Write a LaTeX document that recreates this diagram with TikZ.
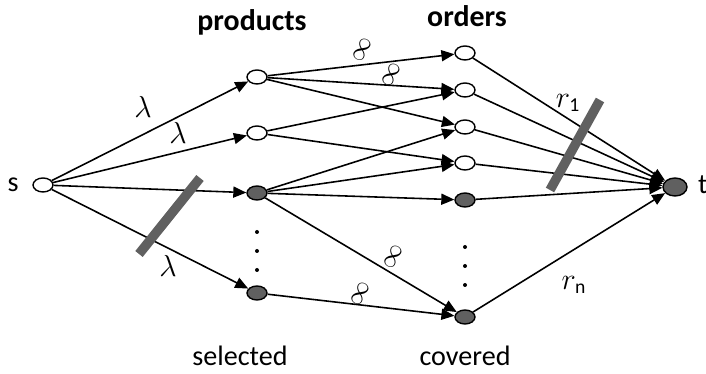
\documentclass[tikz,border=0pt]{standalone}
\usepackage{amsmath}
\usepackage{fontspec}
\setmainfont{Carlito}
\usetikzlibrary{shapes.geometric, arrows.meta, positioning}
\tikzset{
  vtx/.style   = {ellipse, draw=black, line width=0.8pt, inner sep=0pt,
                  minimum width=0.4cm, minimum height=0.28cm, fill=white},
  fvtx/.style  = {vtx, fill=gray!75!black},
  arr/.style   = {-{Triangle[length=2.6mm,width=2.2mm]}, line width=0.9pt},
  cut/.style   = {line width=0.19cm, gray!75!black},
  head/.style  = {font=\fontsize{16}{18}\selectfont},
  inf/.style   = {font=\fontsize{15}{16}\selectfont, rotate=62, inner sep=0pt},
  wt/.style    = {font=\fontsize{16}{18}\selectfont, inner sep=0pt},
  dot/.style   = {circle, fill=black, inner sep=0pt, minimum size=0.08cm},
}

\begin{document}
\begin{tikzpicture}[x=0.02cm, y=-0.02cm]
  \useasboundingbox (0,0) rectangle (706,374);

  % source and sink
  \node[vtx] (s) at (43,185) {};
  \node[head, left=0.15cm of s] (slab) {s};
  \node[fvtx, minimum width=0.48cm, minimum height=0.36cm] (t) at (675,187) {};
  \node[head, anchor=west] (tlab) at (692,185) {t};

  % products
  \node[vtx]  (p1) at (257,77)  {};
  \node[vtx]  (p2) at (257,133) {};
  \node[fvtx] (p3) at (257,193) {};
  \node[fvtx] (p4) at (257,293) {};
  \node[dot] (pd1) at (257,232) {};
  \node[dot] (pd2) at (257,251) {};
  \node[dot] (pd3) at (257,270) {};

  % orders
  \node[vtx]  (o1) at (465,53)  {};
  \node[vtx]  (o2) at (465,90)  {};
  \node[vtx]  (o3) at (465,127) {};
  \node[vtx]  (o4) at (465,163) {};
  \node[fvtx] (o5) at (465,200) {};
  \node[fvtx] (o6) at (465,317) {};
  \node[dot] (od1) at (465,247) {};
  \node[dot] (od2) at (465,266) {};
  \node[dot] (od3) at (465,285) {};

  \node[head, font=\fontsize{17}{19}\selectfont\bfseries] (lprod) at (252,22) {products};
  \node[head, font=\fontsize{17}{19}\selectfont\bfseries] (lord) at (467,16) {orders};
  \node[head] (lsel) at (240,356) {selected};
  \node[head] (lcov) at (465,356) {covered};

  % s -> products
  \draw[arr] (s) -- (p1);
  \draw[arr] (s) -- (p2);
  \draw[arr] (s) -- (p3);
  \draw[arr] (s) -- (p4);

  % products -> orders
  \draw[arr] (p1) -- (o1);
  \draw[arr] (p1) -- (o2);
  \draw[arr] (p1) -- (o3);
  \draw[arr] (p2) -- (o2);
  \draw[arr] (p2) -- (o4);
  \draw[arr] (p3) -- (o3);
  \draw[arr] (p3) -- (o4);
  \draw[arr] (p3) -- (o5);
  \draw[arr] (p3) -- (o6);
  \draw[arr] (p4) -- (o6);

  % orders -> t
  \foreach \o in {o1,o2,o3,o4,o5,o6}
    \draw[arr] (\o) -- (t);

  % cuts
  \coordinate (c1a) at (139,254);
  \coordinate (c1b) at (200,178);
  \coordinate (c2a) at (550,190);
  \coordinate (c2b) at (600,100);
  \draw[cut] (c1a) -- (c1b);
  \draw[cut] (c2a) -- (c2b);

  % weights
  \node[wt] (w1) at (143,107) {$\lambda$};
  \node[wt] (w2) at (178,133) {$\lambda$};
  \node[wt] (w3) at (168,266) {$\lambda$};
  \node[inf] (i1) at (362,50)  {$\infty$};
  \node[inf] (i2) at (391,75)  {$\infty$};
  \node[inf] (i3) at (393,257) {$\infty$};
  \node[inf] (i4) at (360,294) {$\infty$};
  \node[wt] (r1) at (568,103) {$r_{\text{1}}$};
  \node[wt] (rn) at (574,285) {$r_{\text{n}}$};
\end{tikzpicture}
\end{document}
